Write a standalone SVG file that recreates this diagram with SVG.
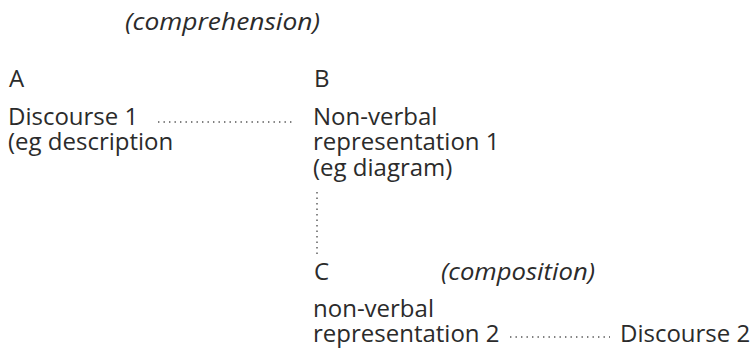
<svg xmlns="http://www.w3.org/2000/svg" width="754" height="349" viewBox="0 0 754 349">
  <style>
    text { font-family: "Open Sans", "Liberation Sans", sans-serif; font-size: 24px; fill: #2b2b2b; }
    .it { font-style: italic; }
    .dot { stroke: #555; stroke-width: 1.4; stroke-dasharray: 1.4 4.1; fill: none; }
  </style>
  <rect width="754" height="349" fill="#ffffff"/>
  <g id="label-comprehension">
    <text class="it" x="125" y="30" textLength="195" lengthAdjust="spacingAndGlyphs">(comprehension)</text>
  </g>
  <g id="node-A">
    <text x="9" y="87">A</text>
    <text x="8" y="125">Discourse 1</text>
    <text x="8" y="150">(eg description</text>
  </g>
  <g id="node-B">
    <text x="314" y="87">B</text>
    <text x="313" y="125">Non-verbal</text>
    <text x="313" y="150">representation 1</text>
    <text x="313" y="176">(eg diagram)</text>
  </g>
  <g id="node-C">
    <text x="314" y="280">C</text>
    <text x="313" y="317">non-verbal</text>
    <text x="313" y="342">representation 2</text>
  </g>
  <g id="label-composition">
    <text class="it" x="441" y="280" textLength="154" lengthAdjust="spacingAndGlyphs">(composition)</text>
  </g>
  <g id="node-discourse2">
    <text x="620" y="342">Discourse 2</text>
  </g>
  <g id="connectors">
    <line class="dot" x1="158" y1="122" x2="294" y2="122"/>
    <line class="dot" x1="317" y1="192" x2="317" y2="254"/>
    <line class="dot" x1="510" y1="337" x2="610" y2="337"/>
  </g>
</svg>
